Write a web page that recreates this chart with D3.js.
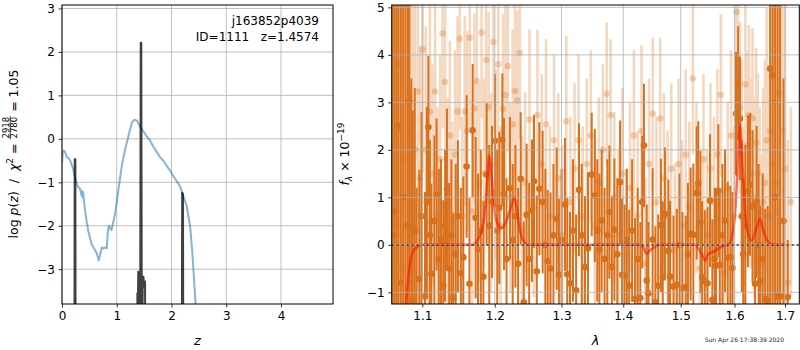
<!DOCTYPE html>
<html>
<head>
<meta charset="utf-8">
<script src="https://cdn.jsdelivr.net/npm/d3@7"></script>
<style>
  body { margin: 0; background: #fff; }
  svg { display: block; font-family: "DejaVu Sans", sans-serif; }
  .tick line { stroke: #000; stroke-width: 0.8; }
  .tick text { font-size: 12px; fill: #000; }
</style>
</head>
<body>
<svg id="svg" width="800" height="350"></svg>
<script>
// ---- left panel: redshift fit ----
const zTicks = [0, 1, 2, 3, 4];
const logTicks = [-3, -2, -1, 0, 1, 2, 3];
const chiZ = [0, 0.015, 0.03, 0.055, 0.085, 0.12, 0.15, 0.2, 0.25, 0.29, 0.33, 0.355, 0.365, 0.375, 0.385, 0.42, 0.45, 0.48, 0.54, 0.60, 0.64, 0.67, 0.695, 0.726, 0.756, 0.79, 0.817, 0.84, 0.86, 0.88, 0.905, 0.93, 0.97, 1.03, 1.09, 1.15, 1.21, 1.24, 1.28, 1.32, 1.37, 1.44, 1.5, 1.55, 1.6, 1.67, 1.73, 1.79, 1.85, 1.91, 1.97, 2.03, 2.1, 2.16, 2.22, 2.28, 2.34, 2.38, 2.42, 2.46];
const chiVal = [-0.55, -0.28, -0.27, -0.3, -0.41, -0.45, -0.5, -0.68, -0.95, -1.1, -1.15, -1.3, -1.2, -1.35, -1.22, -1.64, -1.9, -2.12, -2.42, -2.55, -2.65, -2.8, -2.68, -2.5, -2.52, -2.5, -2.52, -2.1, -2.0, -2.05, -2.1, -1.95, -1.72, -1.18, -0.64, -0.26, 0.05, 0.2, 0.38, 0.44, 0.42, 0.25, 0.15, 0.05, -0.02, -0.18, -0.3, -0.42, -0.5, -0.62, -0.72, -0.85, -0.98, -1.1, -1.33, -1.56, -2.02, -2.6, -3.4, -4.2];
const pzZ = [0.222, 0.232, 0.244, 0.254, 1.37, 1.377, 1.385, 1.393, 1.40, 1.425, 1.438, 1.448, 1.46, 1.475, 1.487, 1.50, 1.517, 1.53, 2.18, 2.195, 2.21, 2.222];
const pzVal = [-10, -0.47, -0.47, -10, -10, -3.55, -3.9, -3.06, -3.3, -6, 2.21, 2.21, -6, -3.3, -3.17, -3.4, -3.28, -10, -10, -1.24, -1.28, -10];

// ---- right panel: spectrum ----
const waveTicks = [1.1, 1.2, 1.3, 1.4, 1.5, 1.6, 1.7];
const fluxTicks = [-1, 0, 1, 2, 3, 4, 5];

const lightWave = [1.063, 1.0655, 1.068, 1.0705, 1.073, 1.076, 1.079, 1.0815, 1.0845, 1.0875, 1.0905, 1.094, 1.097, 1.1005, 1.1045, 1.1075, 1.110, 1.1135, 1.117, 1.1205, 1.124, 1.127, 1.1305, 1.134, 1.137, 1.1405, 1.144, 1.1475, 1.1505, 1.154, 1.1575, 1.161, 1.1645, 1.168, 1.171, 1.1745, 1.178, 1.181, 1.1845, 1.1875, 1.191, 1.1945, 1.198, 1.2015, 1.205, 1.2085, 1.212, 1.2155, 1.219, 1.2225, 1.226, 1.2295, 1.233, 1.2365, 1.240,
  1.2445, 1.251, 1.2575, 1.263, 1.2695, 1.276, 1.282, 1.2885, 1.295, 1.301, 1.3075, 1.314, 1.3205, 1.327, 1.3335, 1.340, 1.3465, 1.353, 1.3595, 1.366, 1.3725, 1.379, 1.385, 1.392, 1.3985, 1.405, 1.4115, 1.418, 1.4245, 1.431, 1.4375, 1.444, 1.4505, 1.457, 1.4635, 1.470, 1.4765, 1.483, 1.4895, 1.496, 1.5025, 1.509, 1.5155, 1.522, 1.5285, 1.535, 1.5415, 1.548, 1.5545, 1.561, 1.5675, 1.574, 1.5805, 1.587, 1.5935, 1.599,
  1.6035, 1.607, 1.6105, 1.614, 1.6175, 1.621, 1.6245, 1.628, 1.6315, 1.635, 1.6385, 1.642, 1.6455, 1.649, 1.6525, 1.656, 1.6595, 1.663, 1.6665, 1.670, 1.6735, 1.677, 1.6805, 1.684, 1.6875, 1.691, 1.695, 1.700, 1.706, 1.712];
const lightFlux = [1.0, 0.39, 3.8, 2.41, -0.5, 1.8, 0.4, 3.2, 2.4, 0.39, 2.0, 3.23, 1.4, 4.11, 2.0, 0.5, 2.8, 1.5, 3.23, 0.6, 1.8, 4.45, 3.43, 0.9, 2.3, 0.5, 1.9, 2.81, 4.34, 0.6, 2.81, 2.4, 4.36, 0.7, 2.87, 3.45, 1.3, 4.47, 1.5, 3.89, 2.9, 1.1, 4.27, 1.7, 3.8, 0.4, 2.86, 3.15, 3.76, 1.0, 2.54, 3.24, 3.04, 4.04, 0.3,
  1.32, 2.64, 0.8, 2.73, 1.7, 2.54, 0.6, 2.2, 1.4, 0.2, 2.6, 0.9, 1.6, 2.2, 0.6, 1.7, 2.3, 0.4, 1.3, 2.0, 3.18, 2.73, 1.0, 0.2, 1.5, -0.2, 1.2, 2.3, 0.6, 2.4, -0.4, 1.7, 2.76, 0.9, 2.66, 1.4, 0.6, 1.6, -0.1, 1.7, 0.4, 1.9, 0.8, 3.5, 1.2, -0.5, 1.8, 0.2, 1.6, 0.9, 1.9, 3.16, -0.6, 1.2, 2.3, 0.6,
  4.9, 3.59, 2.89, 1.9, 0.5, 3.38, 2.1, 2.73, 1.5, 2.66, 1.0, 2.15, 1.5, 0.7, -0.4, 0.9, 1.3, 2.2, 0.6, 2.4, 1.7, 3.0, 1.3, 0.7, 3.2, 0.5, 2.4, 1.6, -0.8, 0.9];
const lightErr = [9, 9, 9, 9, 9, 9, 8, 7, 6, 5, 4, 3, 2.8, 2.6, 2.6, 2.5, 2.4, 2.3, 2.2, 2.3, 2.2, 2.0, 2.1, 2.2, 2.0, 2.1, 2.2, 2.0, 1.9, 2.1, 2.0, 2.1, 1.9, 2.1, 2.0, 1.9, 2.1, 1.8, 2.0, 1.9, 2.0, 2.1, 1.9, 2.0, 1.9, 2.1, 2.0, 1.9, 1.8, 2.0, 2.0, 1.9, 1.9, 1.8, 2.0,
  1.9, 1.9, 1.9, 1.8, 1.9, 1.8, 1.9, 1.8, 1.8, 1.9, 1.8, 1.8, 1.8, 1.8, 1.9, 1.8, 1.8, 1.8, 1.8, 1.8, 1.5, 1.6, 1.8, 1.8, 1.8, 1.8, 1.8, 1.8, 1.8, 1.8, 1.8, 1.8, 1.6, 1.8, 1.7, 1.8, 1.8, 1.8, 1.8, 1.8, 1.8, 1.8, 1.8, 1.6, 1.8, 1.8, 1.8, 1.8, 1.8, 1.8, 1.8, 1.7, 1.8, 1.8, 1.8, 1.9,
  1.5, 1.7, 1.8, 2.0, 2.0, 1.8, 2.0, 1.9, 2.0, 1.9, 2.1, 2.0, 2.1, 2.2, 2.3, 2.4, 2.6, 2.8, 3.0, 3.5, 4, 5, 6, 7, 8, 9, 9, 6, 3, 2];

const darkWave = [1.0615, 1.064, 1.0665, 1.069, 1.072, 1.075, 1.078, 1.081, 1.083, 1.0855, 1.0874, 1.090, 1.0925, 1.096, 1.099, 1.1035, 1.106, 1.108, 1.110, 1.112, 1.116, 1.119, 1.122, 1.125, 1.128, 1.1305, 1.133, 1.136, 1.139, 1.1417, 1.145, 1.148, 1.152, 1.1555, 1.1601, 1.164, 1.1685, 1.1727, 1.176, 1.180, 1.1836, 1.1883, 1.192, 1.196, 1.2002, 1.2035, 1.2065, 1.2109, 1.2133, 1.217, 1.2220, 1.226, 1.230, 1.234, 1.2378, 1.2425, 1.2467, 1.2505, 1.2547, 1.2578, 1.262, 1.2659, 1.2709, 1.275, 1.2786, 1.283, 1.2875, 1.2925, 1.296, 1.300, 1.3054, 1.309, 1.3133, 1.318, 1.323, 1.3276, 1.332, 1.3372, 1.342, 1.348, 1.353, 1.357, 1.3605, 1.3642, 1.369, 1.3735, 1.3769, 1.381, 1.3852, 1.390, 1.3947, 1.398, 1.402, 1.406, 1.410, 1.415, 1.420, 1.4245, 1.429, 1.4323, 1.4352, 1.440, 1.443, 1.4502, 1.455, 1.460, 1.4648, 1.468, 1.4718, 1.478, 1.481, 1.487, 1.493, 1.498, 1.503, 1.509, 1.513, 1.518, 1.5229, 1.529, 1.532, 1.536, 1.539, 1.544, 1.549, 1.5536, 1.558, 1.5625, 1.565, 1.5693, 1.572, 1.577, 1.5819, 1.587, 1.592, 1.596, 1.6029, 1.607, 1.6106, 1.614, 1.617, 1.621, 1.626, 1.630, 1.635, 1.640, 1.643, 1.647, 1.650, 1.655, 1.660, 1.665, 1.670, 1.675, 1.680, 1.685, 1.690, 1.697, 1.7055];
const darkFlux = [0.2, 0.70, -1.5, 2.5, -0.8, 1.0, -2.0, 0.4, 3.02, -1.5, -1.17, 0.3, -1.4, -0.72, 0.6, -1.09, 0.9, 2.48, 0.2, -0.61, 0.5, 1.06, -0.3, 0.1, -0.86, 0.4, 1.17, -0.5, 0.2, -1.12, -0.2, 0.6, -0.6, -0.26, 1.65, -0.82, 2.41, 0.57, -0.1, 0.3, -0.67, 1.48, 0.4, 0.9, 2.19, 0.3, 0.78, 2.21, 1.07, -0.3, 1.19, 0.1, 0.6, -0.4, 1.39, -1.21, 0.63, -0.3, 0.72, 1.34, -0.56, 1.18, 0.90, 0.0, -0.34, -0.5, 0.2, 0.55, -0.63, 0.1, 0.85, -0.62, -0.81, 0.3, -0.96, 1.16, 0.2, -0.47, -0.07, 1.48, 1.04, 0.3, -0.1, 0.51, -0.3, 0.2, 0.69, -0.47, 0.32, -0.2, 1.32, -0.63, -0.65, 0.1, -0.86, 0.3, -1.14, -0.3, -1.12, 0.90, 2.09, -0.75, -1.02, 0.11, -1.21, -0.86, 0.41, -0.68, 0.65, -0.13, -0.67, -0.88, -0.84, 0.0, -0.91, -0.89, -0.2, 0.23, 0.21, 1.09, 1.30, 0.48, -0.68, -0.77, -0.81, 0.93, -1.16, -0.3, -0.44, 1.14, -0.42, 0.2, 0.51, -0.27, -0.26, -0.49, 2.76, 3.4, 2.66, 0.6, -0.2, 0.4, 1.13, 1.27, 0.81, -0.82, 0.90, 0.0, -0.77, -0.3, -1.14, -1.18, 3.71, 3.57, 1.0, -1.09, -1.09, 0.5, -1.1];
const darkErr = [9, 9, 9, 9, 9, 8, 8, 7, 6, 5, 4, 3.0, 2.6, 2.3, 2.2, 2.2, 2.0, 1.5, 2.0, 1.9, 1.8, 1.6, 1.9, 1.7, 1.8, 1.6, 1.7, 1.8, 1.6, 1.8, 1.9, 1.6, 1.8, 1.7, 1.5, 1.8, 1.4, 1.7, 1.6, 1.7, 1.6, 1.5, 1.7, 1.6, 1.4, 1.7, 1.6, 1.4, 1.6, 1.7, 1.5, 1.6, 1.5, 1.6, 1.4, 1.7, 1.5, 1.6, 1.5, 1.4, 1.6, 1.4, 1.5, 1.6, 1.5, 1.6, 1.5, 1.5, 1.6, 1.5, 1.4, 1.6, 1.5, 1.5, 1.6, 1.4, 1.5, 1.5, 1.6, 1.3, 1.4, 1.5, 1.6, 1.5, 1.5, 1.6, 1.4, 1.5, 1.5, 1.6, 1.3, 1.6, 1.5, 1.5, 1.6, 1.5, 1.7, 1.5, 1.6, 1.4, 1.3, 1.6, 1.5, 1.5, 1.6, 1.5, 1.4, 1.6, 1.4, 1.5, 1.6, 1.5, 1.6, 1.5, 1.6, 1.5, 1.5, 1.4, 1.5, 1.4, 1.3, 1.5, 1.6, 1.5, 1.6, 1.4, 1.7, 1.5, 1.6, 1.4, 1.6, 1.5, 1.5, 1.6, 1.5, 1.6, 1.3, 1.2, 1.3, 1.6, 1.6, 1.7, 1.6, 1.5, 1.6, 1.7, 1.6, 1.7, 1.6, 1.8, 1.9, 2.0, 5, 6, 8, 8, 8, 3, 1.2];

const modelWave = [1.0775, 1.0787, 1.0804, 1.0838, 1.0882, 1.0947, 1.1013, 1.1694, 1.1765, 1.1812, 1.1859, 1.1892, 1.1921, 1.1954, 1.2002, 1.2051, 1.2099, 1.2147, 1.2220, 1.2284, 1.2318, 1.2368, 1.2418, 1.2492, 1.4284, 1.4341, 1.4398, 1.4456, 1.4543, 1.4601, 1.5259, 1.5321, 1.5382, 1.5444, 1.5506, 1.5599, 1.5693, 1.5819, 1.5883, 1.5946, 1.6010, 1.6055, 1.6106, 1.6138, 1.6183, 1.6235, 1.6333, 1.6431, 1.6497, 1.6563, 1.6663, 1.6763, 1.7000];
const modelFlux = [-1.9, -1.26, -0.89, -0.40, -0.13, -0.03, 0, 0, 0.13, 0.30, 0.72, 1.36, 1.88, 1.43, 0.65, 0.41, 0.35, 0.44, 0.72, 1.0, 0.79, 0.30, 0.09, 0, 0, -0.05, -0.19, -0.12, -0.04, 0, 0, -0.08, -0.19, -0.33, -0.19, -0.15, -0.08, -0.01, 0, 0.16, 0.65, 1.50, 2.52, 1.99, 1.15, 0.37, 0.09, 0.37, 0.55, 0.30, 0.06, 0, 0];

const specColor = '#d8701c';

const svg = d3.select('#svg');
const defs = svg.append('defs');

// ---------- left panel ----------
const x1 = d3.scaleLinear().domain([0, 4.95]).range([62, 333]);
const y1 = d3.scaleLinear().domain([-3.8, 3.08]).range([304, 5]);

defs.append('clipPath').attr('id', 'clipL').append('rect')
  .attr('x', 62).attr('y', 5).attr('width', 271).attr('height', 299);

const gL = svg.append('g');
gL.append('g').selectAll('line').data(zTicks).join('line')
  .attr('x1', (d) => x1(d)).attr('x2', (d) => x1(d)).attr('y1', 5).attr('y2', 304)
  .attr('stroke', '#b0b0b0').attr('stroke-width', 0.8);
gL.append('g').selectAll('line').data(logTicks).join('line')
  .attr('y1', (d) => y1(d)).attr('y2', (d) => y1(d)).attr('x1', 62).attr('x2', 333)
  .attr('stroke', '#b0b0b0').attr('stroke-width', 0.8);

const plotL = gL.append('g').attr('clip-path', 'url(#clipL)');
const chiPts = chiZ.map((z, i) => [z, chiVal[i]]);
const pzPts = pzZ.map((z, i) => [z, pzVal[i]]);
const lineL = d3.line().x((d) => x1(d[0])).y((d) => y1(d[1]));

plotL.append('path').attr('d', lineL(chiPts))
  .attr('fill', 'none').attr('stroke', '#1f77b4').attr('stroke-opacity', 0.55)
  .attr('stroke-width', 2).attr('stroke-linejoin', 'round');
plotL.append('path').attr('d', lineL(pzPts))
  .attr('fill', 'none').attr('stroke', '#000').attr('stroke-opacity', 0.75)
  .attr('stroke-width', 2).attr('stroke-linejoin', 'round');

gL.append('g').attr('transform', 'translate(0,304)')
  .call(d3.axisBottom(x1).tickValues(zTicks).tickFormat(d3.format('d')).tickSize(3.5).tickPadding(3.5))
  .call((g) => g.select('.domain').remove());
gL.append('g').attr('transform', 'translate(62,0)')
  .call(d3.axisLeft(y1).tickValues(logTicks).tickFormat((d) => d < 0 ? '\u2212' + Math.abs(d) : d).tickSize(3.5).tickPadding(3.5))
  .call((g) => g.select('.domain').remove());
gL.selectAll('.tick text').attr('font-family', '"DejaVu Sans", sans-serif');

gL.append('rect').attr('x', 62).attr('y', 5).attr('width', 271).attr('height', 299)
  .attr('fill', 'none').attr('stroke', '#000').attr('stroke-width', 1);

gL.append('text').attr('x', 319).attr('y', 25).attr('text-anchor', 'end')
  .attr('font-size', 12).text('j163852p4039');
gL.append('text').attr('x', 319).attr('y', 41).attr('text-anchor', 'end')
  .attr('font-size', 12).attr('xml:space', 'preserve').text('ID=1111   z=1.4574');

gL.append('text').attr('x', 197.5).attr('y', 345).attr('text-anchor', 'middle')
  .attr('font-size', 13).attr('font-style', 'italic').text('z');

// rotated y label with fraction
const labL = svg.append('g').attr('transform', 'translate(17.5,154) rotate(-90)');
const partA = labL.append('text').attr('font-size', 12.5).attr('xml:space', 'preserve');
partA.append('tspan').text('log ');
partA.append('tspan').attr('font-style', 'italic').text('p');
partA.append('tspan').text('(');
partA.append('tspan').attr('font-style', 'italic').text('z');
partA.append('tspan').text(')  /  ');
partA.append('tspan').attr('font-style', 'italic').text('\u03c7');
partA.append('tspan').attr('font-size', 9).attr('dy', -5).text('2');
partA.append('tspan').attr('dy', 5).text(' = ');
const num = labL.append('text').attr('font-size', 8.5).attr('text-anchor', 'middle').text('2918');
const den = labL.append('text').attr('font-size', 8.5).attr('text-anchor', 'middle').text('2780');
const partB = labL.append('text').attr('font-size', 12.5).attr('xml:space', 'preserve').text(' = 1.05');
const wA = partA.node().getComputedTextLength();
const wF = Math.max(num.node().getComputedTextLength(), den.node().getComputedTextLength()) + 2;
const wB = partB.node().getComputedTextLength();
const x0 = -(wA + wF + wB) / 2;
partA.attr('x', x0).attr('y', 0);
num.attr('x', x0 + wA + wF / 2).attr('y', -8.5);
den.attr('x', x0 + wA + wF / 2).attr('y', -0.5);
labL.append('line').attr('x1', x0 + wA).attr('x2', x0 + wA + wF)
  .attr('y1', -7.3).attr('y2', -7.3).attr('stroke', '#000').attr('stroke-width', 0.7);
partB.attr('x', x0 + wA + wF).attr('y', 0);

// ---------- right panel ----------
const x2 = d3.scaleLog().domain([1.0603, 1.7294]).range([391.7, 799.3]);
const y2 = d3.scaleLinear().domain([-1.246, 5.05]).range([304, 5]);

defs.append('clipPath').attr('id', 'clipR').append('rect')
  .attr('x', 391.7).attr('y', 5).attr('width', 407.6).attr('height', 299);

const gR = svg.append('g');
const plotR = gR.append('g').attr('clip-path', 'url(#clipR)');

const light = lightWave.map((w, i) => ({ w: w, f: lightFlux[i], e: lightErr[i] }));
const dark = darkWave.map((w, i) => ({ w: w, f: darkFlux[i], e: darkErr[i] }));

const gLight = plotR.append('g').attr('opacity', 0.28);
gLight.selectAll('line').data(light).join('line')
  .attr('x1', (d) => x2(d.w)).attr('x2', (d) => x2(d.w))
  .attr('y1', (d) => y2(d.f - d.e)).attr('y2', (d) => y2(d.f + d.e))
  .attr('stroke', specColor).attr('stroke-width', 2.6);
plotR.append('g').selectAll('circle').data(light).join('circle')
  .attr('cx', (d) => x2(d.w)).attr('cy', (d) => y2(d.f)).attr('r', 3.3)
  .attr('fill', specColor).attr('fill-opacity', 0.3);

plotR.append('g').selectAll('line').data(dark).join('line')
  .attr('x1', (d) => x2(d.w)).attr('x2', (d) => x2(d.w))
  .attr('y1', (d) => y2(d.f - d.e)).attr('y2', (d) => y2(d.f + d.e))
  .attr('stroke', specColor).attr('stroke-width', 2);
plotR.append('g').selectAll('circle').data(dark).join('circle')
  .attr('cx', (d) => x2(d.w)).attr('cy', (d) => y2(d.f)).attr('r', 3.3)
  .attr('fill', specColor);

// grid goes over the points
gR.append('g').selectAll('line').data(waveTicks).join('line')
  .attr('x1', (d) => x2(d)).attr('x2', (d) => x2(d)).attr('y1', 5).attr('y2', 304)
  .attr('stroke', '#b0b0b0').attr('stroke-width', 0.8);
gR.append('g').selectAll('line').data(fluxTicks).join('line')
  .attr('y1', (d) => y2(d)).attr('y2', (d) => y2(d)).attr('x1', 391.7).attr('x2', 799.3)
  .attr('stroke', '#b0b0b0').attr('stroke-width', 0.8);

const modelPts = modelWave.map((w, i) => [w, modelFlux[i]]);
plotR.append('path')
  .attr('d', d3.line().curve(d3.curveMonotoneX).x((d) => x2(d[0])).y((d) => y2(d[1]))(modelPts))
  .attr('fill', 'none').attr('stroke', '#ff1a00').attr('stroke-opacity', 0.65).attr('stroke-width', 2.5);

plotR.append('line').attr('x1', 391.7).attr('x2', 799.3).attr('y1', y2(0)).attr('y2', y2(0))
  .attr('stroke', '#000').attr('stroke-width', 1.6).attr('stroke-dasharray', '2,3');

gR.append('g').attr('transform', 'translate(0,304)')
  .call(d3.axisBottom(x2).tickValues(waveTicks).tickFormat(d3.format('.1f')).tickSize(3.5).tickPadding(3.5))
  .call((g) => g.select('.domain').remove());
gR.append('g').attr('transform', 'translate(391.7,0)')
  .call(d3.axisLeft(y2).tickValues(fluxTicks).tickFormat((d) => d < 0 ? '\u2212' + Math.abs(d) : d).tickSize(3.5).tickPadding(3.5))
  .call((g) => g.select('.domain').remove());
gR.selectAll('.tick text').attr('font-family', '"DejaVu Sans", sans-serif');

gR.append('rect').attr('x', 391.7).attr('y', 5).attr('width', 407.6).attr('height', 299)
  .attr('fill', 'none').attr('stroke', '#000').attr('stroke-width', 1);

gR.append('text').attr('x', 595.5).attr('y', 345).attr('text-anchor', 'middle')
  .attr('font-size', 13).attr('font-style', 'italic').text('\u03bb');

const labR = gR.append('text').attr('transform', 'translate(349,154) rotate(-90)')
  .attr('text-anchor', 'middle').attr('font-size', 12.5).attr('xml:space', 'preserve');
labR.append('tspan').attr('font-style', 'italic').text('f');
labR.append('tspan').attr('font-style', 'italic').attr('font-size', 9).attr('dy', 3).text('\u03bb');
labR.append('tspan').attr('dy', -3).text(' \u00d7 10');
labR.append('tspan').attr('font-size', 9).attr('dy', -5).text('\u221219');

svg.append('text').attr('x', 784).attr('y', 342).attr('text-anchor', 'end')
  .attr('font-size', 6).attr('fill', '#222').text('Sun Apr 26 17:38:39 2020');
</script>
</body>
</html>
